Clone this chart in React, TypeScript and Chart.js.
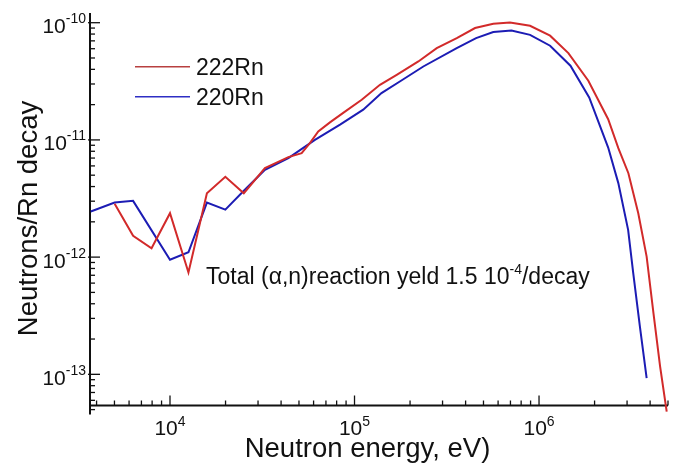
import React, { useEffect, useRef } from "react";
import { Chart, registerables } from "chart.js";

Chart.register(...registerables);

// ---- data (energy in eV, neutrons per Rn decay) ----
const rn222Energy = [
  5012, 6310, 7943, 10000, 12590, 15850, 19950, 25120, 32700, 43800, 51700, 57300,
  63600, 73600, 87200, 109400, 137400, 169300, 221800, 279000, 358300, 450000, 565000,
  696000, 894000, 1148000, 1442000, 1850000, 2370000, 2690000, 3050000, 3450000,
  3830000, 4170000, 4530000, 4920000,
];
const rn222Yield = [
  2.85e-12, 1.52e-12, 1.19e-12, 2.37e-12, 7.4e-13, 3.51e-12, 4.84e-12, 3.51e-12, 5.74e-12,
  7.13e-12, 7.71e-12, 9.39e-12, 1.18e-11, 1.41e-11, 1.71e-11, 2.2e-11, 2.95e-11, 3.59e-11,
  4.67e-11, 6.07e-11, 7.39e-11, 9.0e-11, 9.8e-11, 1.005e-10, 9.42e-11, 7.75e-11, 5.51e-11,
  3.2e-11, 1.5e-11, 8.5e-12, 5.2e-12, 2.37e-12, 1.01e-12, 3.33e-13, 1.17e-13, 4.8e-14,
];
const rn220Energy = [
  3720, 5012, 6310, 10000, 12590, 15850, 19950, 25120, 32700, 43800, 61000, 83500, 111500,
  140000, 176000, 236000, 358000, 456000, 565000, 709000, 894000, 1148000, 1480000,
  1870000, 2370000, 2690000, 3040000, 3240000, 3520000, 3830000,
];
const rn220Yield = [
  2.45e-12, 2.92e-12, 3.02e-12, 9.5e-13, 1.1e-12, 2.92e-12, 2.54e-12, 3.68e-12, 5.56e-12,
  7.0e-12, 1.0e-11, 1.35e-11, 1.81e-11, 2.51e-11, 3.15e-11, 4.23e-11, 6.07e-11, 7.39e-11,
  8.32e-11, 8.58e-11, 7.88e-11, 6.36e-11, 4.3e-11, 2.3e-11, 8.6e-12, 4.28e-12, 1.71e-12,
  7.3e-13, 2.56e-13, 9.3e-14,
];
const seriesLabels = ["222Rn", "220Rn"];
const seriesColors = ["#d22a2a", "#1c1cb4"];
const legendColors = ["#b84040", "#2e2ec4"];

const xMajorTicks = [1e4, 1e5, 1e6];
const xTickExponents = ["4", "5", "6"];
const yMajorTicks = [1e-10, 1e-11, 1e-12, 1e-13];
const yTickExponents = ["-10", "-11", "-12", "-13"];
const xMin = 3685;
const xMax = 5e6;
const yMin = 5.42e-14;
const yMax = 1.21e-10;

const xTitle = "Neutron energy, eV)";
const yTitle = "Neutrons/Rn decay";
const notePrefix = "Total (\u03b1,n)reaction yeld 1.5 10";
const noteExp = "-4";
const noteSuffix = "/decay";

const FONT = '"Liberation Sans", Arial, Helvetica, sans-serif';

function toPoints(xs: number[], ys: number[]) {
  return xs.map((x, i) => ({ x, y: ys[i] }));
}

const axesPlugin = {
  id: "tecplotAxes",
  beforeDatasetsDraw(chart: any) {
    const ctx = chart.ctx as CanvasRenderingContext2D;
    const { left, right, top, bottom } = chart.chartArea;
    const xs = chart.scales.x;
    const ys = chart.scales.y;
    ctx.save();
    ctx.strokeStyle = "#111";
    ctx.fillStyle = "#111";
    // axis lines
    ctx.lineWidth = 2;
    ctx.beginPath();
    ctx.moveTo(left, bottom);
    ctx.lineTo(right, bottom);
    ctx.stroke();
    ctx.beginPath();
    ctx.moveTo(left, top);
    ctx.lineTo(left, bottom + 9);
    ctx.stroke();

    ctx.lineWidth = 1.3;
    // y ticks
    for (let d = -14; d <= -10; d++) {
      for (let m = 1; m <= 9; m++) {
        const v = m * Math.pow(10, d);
        const py = ys.getPixelForValue(v);
        if (py < top - 0.5 || py > bottom + 8) continue;
        ctx.beginPath();
        if (m === 1) {
          ctx.moveTo(left - 2, py);
          ctx.lineTo(left + 10, py);
        } else {
          ctx.moveTo(left, py);
          ctx.lineTo(left + 5, py);
        }
        ctx.stroke();
      }
    }
    // x ticks
    for (let d = 3; d <= 6; d++) {
      for (let m = 1; m <= 9; m++) {
        const v = m * Math.pow(10, d);
        if (v < xMin || v > xMax * 1.001) continue;
        const px = xs.getPixelForValue(v);
        ctx.beginPath();
        ctx.moveTo(px, bottom);
        ctx.lineTo(px, bottom - (m === 1 ? 10 : 5));
        ctx.stroke();
      }
    }

    // y tick labels
    ctx.textBaseline = "alphabetic";
    yMajorTicks.forEach((v, i) => {
      const py = ys.getPixelForValue(v);
      ctx.font = `14px ${FONT}`;
      const ew = ctx.measureText(yTickExponents[i]).width;
      ctx.textAlign = "right";
      ctx.fillText(yTickExponents[i], 86, py + 0.5);
      ctx.font = `21px ${FONT}`;
      ctx.fillText("10", 86 - ew, py + 10.5);
    });
    // x tick labels
    xMajorTicks.forEach((v, i) => {
      const px = xs.getPixelForValue(v);
      ctx.font = `21px ${FONT}`;
      const bw = ctx.measureText("10").width;
      ctx.font = `14px ${FONT}`;
      const ew = ctx.measureText(xTickExponents[i]).width;
      const x0 = px - (bw + ew) / 2;
      ctx.textAlign = "left";
      ctx.font = `21px ${FONT}`;
      ctx.fillText("10", x0, 435);
      ctx.font = `14px ${FONT}`;
      ctx.fillText(xTickExponents[i], x0 + bw, 426);
    });

    // axis titles
    ctx.font = `27.5px ${FONT}`;
    ctx.textAlign = "center";
    ctx.fillText(xTitle, 367.5, 456.5);
    ctx.save();
    ctx.translate(37, 218.5);
    ctx.rotate(-Math.PI / 2);
    ctx.fillText(yTitle, 0, 0);
    ctx.restore();

    // annotation
    ctx.textAlign = "left";
    ctx.font = `23px ${FONT}`;
    let nx = 206;
    ctx.fillText(notePrefix, nx, 283.5);
    nx += ctx.measureText(notePrefix).width;
    ctx.font = `14px ${FONT}`;
    ctx.fillText(noteExp, nx, 274);
    nx += ctx.measureText(noteExp).width;
    ctx.font = `23px ${FONT}`;
    ctx.fillText(noteSuffix, nx, 283.5);

    // legend
    const legendY = [66.7, 96.7];
    seriesLabels.forEach((lab, i) => {
      ctx.strokeStyle = legendColors[i];
      ctx.lineWidth = 1.6;
      ctx.beginPath();
      ctx.moveTo(135, legendY[i]);
      ctx.lineTo(190, legendY[i]);
      ctx.stroke();
      ctx.fillStyle = "#111";
      ctx.font = `23px ${FONT}`;
      ctx.textAlign = "left";
      ctx.fillText(lab, 196, legendY[i] + 8.3);
    });
    ctx.restore();
  },
};

export default function App() {
  const canvasRef = useRef<HTMLCanvasElement | null>(null);

  useEffect(() => {
    const canvas = canvasRef.current;
    if (!canvas) return;
    const chart = new Chart(canvas, {
      type: "line",
      data: {
        datasets: [
          {
            label: seriesLabels[0],
            data: toPoints(rn222Energy, rn222Yield),
            borderColor: seriesColors[0],
            borderWidth: 2,
            pointRadius: 0,
            tension: 0,
            clip: false as any,
          },
          {
            label: seriesLabels[1],
            data: toPoints(rn220Energy, rn220Yield),
            borderColor: seriesColors[1],
            borderWidth: 2,
            pointRadius: 0,
            tension: 0,
            clip: false as any,
          },
        ],
      },
      options: {
        animation: false,
        responsive: false,
        devicePixelRatio: 1,
        layout: { padding: { left: 90, right: 7, top: 13, bottom: 57.5 } },
        plugins: {
          legend: { display: false },
          tooltip: { enabled: false },
        },
        scales: {
          x: { type: "logarithmic", min: xMin, max: xMax, display: false },
          y: { type: "logarithmic", min: yMin, max: yMax, display: false },
        },
      },
      plugins: [axesPlugin],
    });
    return () => chart.destroy();
  }, []);

  return (
    <div style={{ position: "absolute", left: 0, top: 0, width: 675, height: 463, background: "#fff" }}>
      <canvas ref={canvasRef} width={675} height={463} style={{ display: "block", width: 675, height: 463 }} />
    </div>
  );
}
